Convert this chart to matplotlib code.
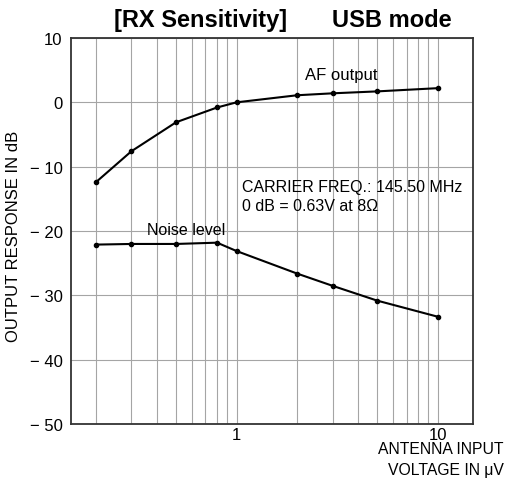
import matplotlib.pyplot as plt
from matplotlib.ticker import FixedLocator, NullFormatter

plt.rcParams['font.family'] = ['Liberation Sans', 'DejaVu Sans']

# antenna input voltage (uV) vs output response (dB)
af_volt = [0.2, 0.3, 0.5, 0.8, 1, 2, 3, 5, 10]
af_db = [-12.4, -7.6, -3.1, -0.8, 0.0, 1.1, 1.4, 1.7, 2.2]

noise_volt = [0.2, 0.3, 0.5, 0.8, 1, 2, 3, 5, 10]
noise_db = [-22.1, -22.0, -22.0, -21.8, -23.1, -26.6, -28.5, -30.8, -33.3]

y_ticks = [10, 0, -10, -20, -30, -40, -50]
y_labels = ['10', '0', '\u2212 10', '\u2212 20', '\u2212 30', '\u2212 40', '\u2212 50']

fig = plt.figure(figsize=(5.06, 4.81), dpi=100)
ax = fig.add_axes([0.140, 0.116, 0.795, 0.803])

ax.plot(af_volt, af_db, color='black', lw=1.5, marker='o', ms=3)
ax.plot(noise_volt, noise_db, color='black', lw=1.5, marker='o', ms=3)

ax.set_xscale('log')
ax.set_xlim(0.15, 15)
ax.set_ylim(-50, 10)

grid_x = [0.2, 0.3, 0.4, 0.5, 0.6, 0.7, 0.8, 0.9, 1, 2, 3, 4, 5, 6, 7, 8, 9, 10]
ax.xaxis.set_major_locator(FixedLocator([1, 10]))
ax.xaxis.set_minor_locator(FixedLocator(grid_x))
ax.xaxis.set_minor_formatter(NullFormatter())
ax.set_xticklabels(['1', '10'])
ax.set_yticks(y_ticks)
ax.set_yticklabels(y_labels)
ax.tick_params(which='both', length=0, labelsize=12)
ax.tick_params(axis='y', pad=6)
ax.tick_params(axis='x', pad=2)

ax.grid(True, which='both', axis='x', color='#a5a5a5', lw=0.8)
ax.grid(True, which='major', axis='y', color='#a5a5a5', lw=0.8)
for s in ax.spines.values():
    s.set_linewidth(1.3)
    s.set_color('#333333')

fig.text(0.026, 0.509, 'OUTPUT RESPONSE IN dB', fontsize=12, rotation=90,
         ha='center', va='center')

fig.text(0.397, 0.958, '[RX Sensitivity]', fontsize=17, fontweight='bold',
         ha='center', va='center')
fig.text(0.774, 0.958, 'USB mode', fontsize=17, fontweight='bold',
         ha='center', va='center')

ax.text(3.3, 4.3, 'AF output', fontsize=12, ha='center', va='center')
ax.text(0.56, -19.7, 'Noise level', fontsize=11.5, ha='center', va='center')
ax.text(1.06, -13.0, 'CARRIER FREQ.: 145.50 MHz', fontsize=11.5, ha='left', va='center')
ax.text(1.06, -16.0, '0 dB = 0.63V at 8\u03a9', fontsize=11.5, ha='left', va='center')

fig.text(0.995, 0.066, 'ANTENNA INPUT', fontsize=11.3, ha='right', va='center')
fig.text(0.995, 0.022, 'VOLTAGE IN \u03bcV', fontsize=11.3, ha='right', va='center')

fig.savefig('out.png', dpi=100)
